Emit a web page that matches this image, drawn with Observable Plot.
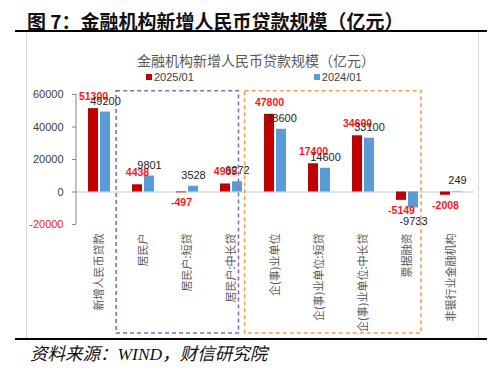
<!DOCTYPE html>
<html><head><meta charset="utf-8">
<script src="https://cdn.jsdelivr.net/npm/d3@7"></script>
<script src="https://cdn.jsdelivr.net/npm/@observablehq/plot@0.6"></script>
<style>
body{margin:0;background:#fff;width:500px;height:375px;position:relative;overflow:hidden;font-family:"Noto Sans CJK SC",sans-serif;}
.abs{position:absolute;white-space:nowrap;}
</style></head><body>
<div class="abs" style="left:27px;top:9px;font-size:19px;font-weight:700;line-height:24px;color:#111;">图 7：金融机构新增人民币贷款规模（亿元）</div>
<div class="abs" style="left:15px;top:30px;width:472px;height:2px;background:#000;"></div>
<div class="abs" style="left:26px;top:32px;width:1px;height:306px;background:#d9d9d9;"></div>
<div class="abs" style="left:478px;top:32px;width:1px;height:306px;background:#d9d9d9;"></div>
<div class="abs" style="left:256px;top:51px;transform:translateX(-50%);font-size:14px;line-height:18px;color:#595959;">金融机构新增人民币贷款规模（亿元）</div>
<div class="abs" id="legend" style="left:146px;top:70px;height:14px;display:flex;align-items:center;font-family:'Liberation Sans',sans-serif;font-size:11px;color:#404040;"></div>
<div id="chart" class="abs" style="left:0;top:32px;"></div>
<div class="abs" style="left:15px;top:338px;width:472px;height:2px;background:#000;"></div>
<div class="abs" style="left:30px;top:343px;font-size:17.5px;line-height:22px;font-style:italic;color:#111;font-family:'Liberation Serif','Noto Sans CJK SC',serif;">资料来源：WIND，财信研究院</div>
<script>
const categories = ["新增人民币贷款","居民户","居民户:短贷","居民户:中长贷","企(事)业单位","企(事)业单位:短贷","企(事)业单位:中长贷","票据融资","非银行业金融机构"];
const v2025 = [51300,4438,-497,4935,47800,17400,34600,-5149,-2008];
const v2024 = [49200,9801,3528,6272,38600,14600,33100,-9733,249];
const seriesNames = ["2025/01","2024/01"];
const seriesColors = ["#c00000","#5b9bd5"];
const yTicks = [-20000,0,20000,40000,60000];
const boxes = [
  {from:"居民户", to:"居民户:中长贷", l:-0.11, r:0.67, color:"#8070b0"},
  {from:"企(事)业单位", to:"票据融资", l:-0.19, r:0.82, color:"#f4a050"}
];

// legend
const leg = document.getElementById("legend");
seriesNames.forEach((n,i)=>{
  const it = document.createElement("div");
  it.style.cssText = "display:flex;align-items:center;margin-right:" + (i===0?"120px":"0");
  it.innerHTML = `<span style="display:inline-block;width:6px;height:6px;background:${seriesColors[i]};margin-right:2px"></span><span>${n}</span>`;
  leg.appendChild(it);
});

const d25 = categories.map((c,i)=>({cat:c, v:v2025[i]}));
const d24 = categories.map((c,i)=>({cat:c, v:v2024[i]}));
const off = 6;
const redLabel = "#ee1c1c";

function decor(index, scales, values, dims) {
  const {x, y} = scales;
  let bw = typeof x.bandwidth === "function" ? x.bandwidth() : x.bandwidth;
  if (!bw) bw = x(categories[1]) - x(categories[0]);
  const g = d3.create("svg:g");
  g.append("line").attr("x1", dims.marginLeft).attr("x2", dims.marginLeft)
    .attr("y1", y(yTicks[yTicks.length-1])).attr("y2", y(yTicks[0]))
    .attr("stroke", "#868686");
  for (const b of boxes) {
    const x1 = x(b.from) + b.l*bw, x2 = x(b.to) + b.r*bw;
    const top = y(62000), bottom = dims.height - 5;
    g.append("rect").attr("x", x1).attr("y", top).attr("width", x2-x1).attr("height", bottom-top)
      .attr("fill","none").attr("stroke", b.color).attr("stroke-width",1.6).attr("stroke-dasharray","4,3");
  }
  return g.node();
}

const plot = Plot.plot({
  width: 500, height: 306,
  marginLeft: 76, marginRight: 26, marginTop: 62, marginBottom: 114,
  x: {domain: categories, padding: 0, axis: null},
  y: {domain: [-20000, 60000], axis: null, label: null},
  style: {fontFamily: "'Liberation Sans', sans-serif", background: "transparent", overflow: "visible"},
  marks: [
    Plot.ruleY([0], {stroke: "#c8c8c8"}),
    Plot.axisY(yTicks, {tickSize: 4, tickFormat: () => "", stroke: "#868686", label: null}),
    Plot.text(yTicks, {y: d => d, frameAnchor: "left", dx: -13, textAnchor: "end",
      fill: d => d < 0 ? redLabel : "#404040", fontSize: 11, text: d => String(d)}),
    Plot.barY(d25, {x: "cat", y: "v", fill: seriesColors[0], insetLeft: 17, insetRight: 17, dx: -off}),
    Plot.barY(d24, {x: "cat", y: "v", fill: seriesColors[1], insetLeft: 17, insetRight: 17, dx: off}),
    Plot.text(d25, {filter: d => d.v >= 0, x: "cat", y: "v", text: d => String(d.v), dx: -off, dy: -12,
      fill: redLabel, fontWeight: "bold", fontSize: 10.5}),
    Plot.text(d25, {filter: d => d.v < 0, x: "cat", y: "v", text: d => String(d.v), dx: -off, dy: 10,
      fill: redLabel, fontWeight: "bold", fontSize: 10.5}),
    Plot.text(d24, {filter: d => d.v >= 0, x: "cat", y: "v", text: d => String(d.v), dx: off, dy: -11,
      fill: "#222", fontSize: 11}),
    Plot.text(d24, {filter: d => d.v < 0, x: "cat", y: "v", text: d => String(d.v), dx: off, dy: 14,
      fill: "#222", fontSize: 11}),
    Plot.text(categories, {x: d => d, text: d => d, frameAnchor: "bottom", dy: 9, rotate: -90,
      textAnchor: "end", lineAnchor: "middle", fontFamily: "'Noto Sans CJK SC', sans-serif",
      fontSize: 11, fill: "#595959"}),
    decor
  ]
});
document.getElementById("chart").appendChild(plot);
</script>
</body></html>
